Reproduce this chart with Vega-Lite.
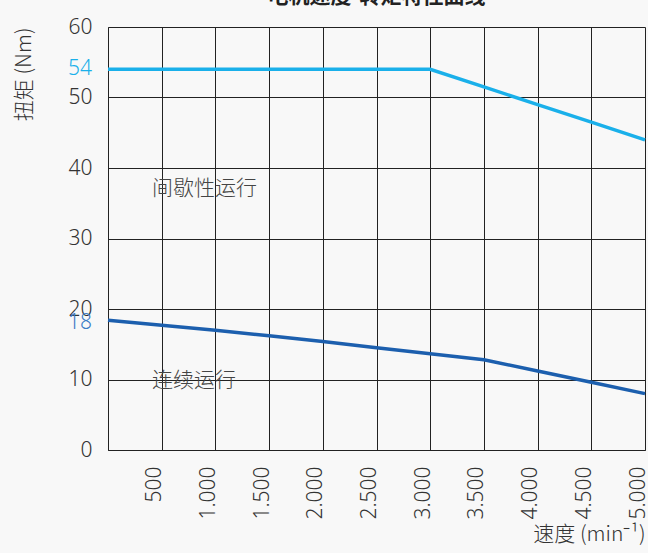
{
  "$schema": "https://vega.github.io/schema/vega-lite/v6.json",
  "autosize": {"type": "none"},
  "width": 537,
  "height": 423,
  "padding": {"left": 108, "top": 27, "right": 3, "bottom": 103},
  "background": "#f8f8f8",
  "config": {
    "font": "Noto Sans CJK SC",
    "view": {"stroke": null},
    "axis": {"labelFont": "Noto Sans", "titleFont": "Noto Sans CJK SC"}
  },
  "title": {
    "text": "电机速度-转矩特性曲线",
    "fontSize": 21,
    "fontWeight": "bold",
    "color": "#222222",
    "offset": 9,
    "anchor": "middle"
  },
  "datasets": {
    "curves": [
      {"speed": 0, "torque": 54, "mode": "间歇性运行"},
      {"speed": 500, "torque": 54, "mode": "间歇性运行"},
      {"speed": 1000, "torque": 54, "mode": "间歇性运行"},
      {"speed": 1500, "torque": 54, "mode": "间歇性运行"},
      {"speed": 2000, "torque": 54, "mode": "间歇性运行"},
      {"speed": 2500, "torque": 54, "mode": "间歇性运行"},
      {"speed": 3000, "torque": 54, "mode": "间歇性运行"},
      {"speed": 3500, "torque": 51.5, "mode": "间歇性运行"},
      {"speed": 4000, "torque": 49, "mode": "间歇性运行"},
      {"speed": 4500, "torque": 46.5, "mode": "间歇性运行"},
      {"speed": 5000, "torque": 44, "mode": "间歇性运行"},
      {"speed": 0, "torque": 18.4, "mode": "连续运行"},
      {"speed": 500, "torque": 17.7, "mode": "连续运行"},
      {"speed": 1000, "torque": 17.0, "mode": "连续运行"},
      {"speed": 1500, "torque": 16.2, "mode": "连续运行"},
      {"speed": 2000, "torque": 15.4, "mode": "连续运行"},
      {"speed": 2500, "torque": 14.5, "mode": "连续运行"},
      {"speed": 3000, "torque": 13.65, "mode": "连续运行"},
      {"speed": 3500, "torque": 12.8, "mode": "连续运行"},
      {"speed": 4000, "torque": 11.2, "mode": "连续运行"},
      {"speed": 4500, "torque": 9.6, "mode": "连续运行"},
      {"speed": 5000, "torque": 8.0, "mode": "连续运行"}
    ],
    "notes": [
      {"speed": 410, "torque": 37, "text": "间歇性运行"},
      {"speed": 410, "torque": 9.8, "text": "连续运行"}
    ],
    "marks": [
      {"speed": 0, "torque": 54, "text": "54", "mode": "间歇性运行"},
      {"speed": 0, "torque": 18, "text": "18", "mode": "连续运行"}
    ]
  },
  "layer": [
    {
      "data": {"name": "curves"},
      "mark": {"type": "line", "strokeWidth": 3.5, "clip": false},
      "encoding": {
        "x": {
          "field": "speed", "type": "quantitative",
          "scale": {"domain": [0, 5000], "nice": false},
          "axis": {
            "values": [0, 500, 1000, 1500, 2000, 2500, 3000, 3500, 4000, 4500, 5000],
            "grid": true, "gridColor": "#222222", "gridOpacity": 1, "gridWidth": 1,
            "domainColor": "#222222", "domainWidth": 1,
            "ticks": false,
            "labelAngle": -90,
            "labelFontSize": 21,
            "labelFontWeight": 300,
            "labelColor": "#333333",
            "labelPadding": 16,
            "labelOffset": -7,
            "format": ",d",
            "labelExpr": "datum.value == 0 ? '' : replace(datum.label, ',', '.')",
            "title": "速度 (min⁻¹)",
            "titleAnchor": "end",
            "titleFontSize": 21,
            "titleFontWeight": 300,
            "titleColor": "#333333",
            "titlePadding": 4
          }
        },
        "y": {
          "field": "torque", "type": "quantitative",
          "scale": {"domain": [0, 60], "nice": false},
          "axis": {
            "values": [0, 5, 10, 15, 20, 25, 30, 35, 40, 45, 50, 55, 60],
            "grid": true, "gridColor": "#222222", "gridOpacity": 1, "gridWidth": 1,
            "domainColor": "#222222", "domainWidth": 1,
            "ticks": false,
            "labelFontSize": 21,
            "labelFontWeight": 300,
            "labelColor": "#333333",
            "labelPadding": 16,
            "labelExpr": "datum.value % 10 == 0 ? datum.label : ''",
            "title": "扭矩 (Nm)",
            "titleAnchor": "end",
            "titleFontSize": 21,
            "titleFontWeight": 300,
            "titleColor": "#333333",
            "titlePadding": 34
          }
        },
        "color": {
          "field": "mode", "type": "nominal",
          "scale": {"domain": ["间歇性运行", "连续运行"], "range": ["#1ab0ea", "#1c5fae"]},
          "legend": null
        }
      }
    },
    {
      "data": {"name": "notes"},
      "mark": {"type": "text", "align": "left", "baseline": "middle", "fontSize": 21, "fontWeight": 300, "color": "#444444", "font": "Noto Sans CJK SC"},
      "encoding": {
        "x": {"field": "speed", "type": "quantitative"},
        "y": {"field": "torque", "type": "quantitative"},
        "text": {"field": "text"}
      }
    },
    {
      "data": {"name": "marks"},
      "mark": {"type": "text", "align": "right", "baseline": "middle", "fontSize": 21, "fontWeight": 300, "dx": -16, "font": "Noto Sans"},
      "encoding": {
        "x": {"field": "speed", "type": "quantitative"},
        "y": {"field": "torque", "type": "quantitative"},
        "text": {"field": "text"},
        "color": {
          "field": "mode", "type": "nominal",
          "scale": {"domain": ["间歇性运行", "连续运行"], "range": ["#1ab0ea", "#3a7cc6"]},
          "legend": null
        }
      }
    }
  ],
  "resolve": {"scale": {"color": "independent"}}
}
